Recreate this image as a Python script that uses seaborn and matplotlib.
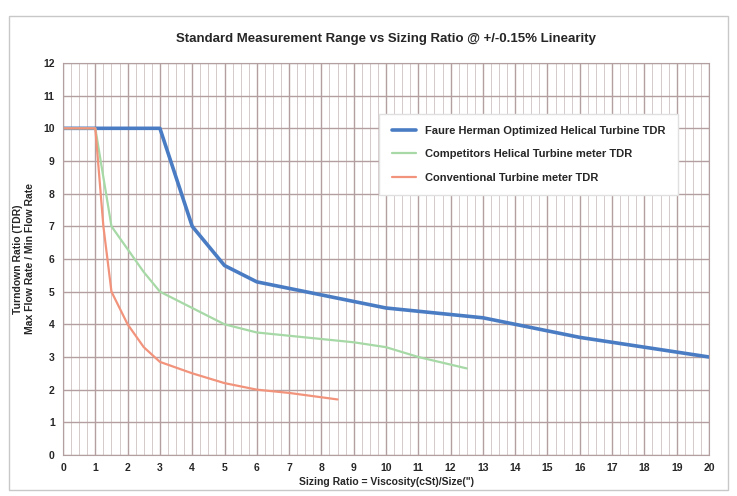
import matplotlib
matplotlib.use("Agg")
import matplotlib.pyplot as plt
import seaborn as sns
import pandas as pd
from matplotlib.patches import Rectangle
from matplotlib.ticker import MultipleLocator

# valores
x_fh = [0, 1, 2, 3, 4, 5, 6, 7, 8, 9, 10, 11, 12, 13, 14, 15, 16, 17, 18, 19, 20]
y_fh = [10, 10, 10, 10, 7.0, 5.8, 5.3, 5.1, 4.9, 4.7, 4.5, 4.4, 4.3, 4.2, 4.0, 3.8, 3.6, 3.45, 3.3, 3.15, 3.0]

x_comp = [0, 1, 1.5, 2, 2.5, 3, 4, 5, 6, 7, 8, 9, 10, 11, 12.5]
y_comp = [10, 10, 7.0, 6.3, 5.6, 5.0, 4.5, 4.0, 3.75, 3.65, 3.55, 3.45, 3.3, 3.0, 2.65]

x_conv = [0, 1, 1.25, 1.5, 2, 2.5, 3, 4, 5, 6, 7, 8.5]
y_conv = [10, 10, 7.0, 5.0, 4.0, 3.3, 2.85, 2.5, 2.2, 2.0, 1.9, 1.7]

series = ["Faure Herman Optimized Helical Turbine TDR",
          "Competitors Helical Turbine meter TDR",
          "Conventional Turbine meter TDR"]
colors = ["#4a7cc4", "#a6d9a6", "#f2937c"]
widths = [2.6, 1.6, 1.6]

df = pd.concat([
    pd.DataFrame({"x": x_fh, "y": y_fh, "serie": series[0]}),
    pd.DataFrame({"x": x_comp, "y": y_comp, "serie": series[1]}),
    pd.DataFrame({"x": x_conv, "y": y_conv, "serie": series[2]}),
])

sns.set_style("white")
plt.rcParams["font.family"] = ["Liberation Sans", "DejaVu Sans"]
plt.rcParams["font.weight"] = "bold"

fig = plt.figure(figsize=(7.37, 4.96), dpi=100)
fig.patches.append(Rectangle((0.012, 0.012), 0.976, 0.955, transform=fig.transFigure,
                             fill=False, edgecolor="#c8c8c8", linewidth=1))
ax = fig.add_axes([0.0855, 0.0827, 0.8765, 0.7903])

for nome, cor, lw in zip(series, colors, widths):
    sub = df[df["serie"] == nome]
    sns.lineplot(data=sub, x="x", y="y", color=cor, linewidth=lw, label=nome,
                 ax=ax, sort=False, estimator=None)

ax.set_xlim(0, 20)
ax.set_ylim(0, 12)
ax.xaxis.set_major_locator(MultipleLocator(1))
ax.xaxis.set_minor_locator(MultipleLocator(0.25))
ax.yaxis.set_major_locator(MultipleLocator(1))
ax.grid(True, which="major", color="#b39f9f", linewidth=1.0)
ax.grid(True, which="minor", axis="x", color="#cdc2c2", linewidth=0.6)
ax.set_axisbelow(True)
for s in ax.spines.values():
    s.set_color("#b39f9f")
ax.tick_params(axis="both", labelsize=7.5, length=3, color="#b39f9f", pad=3)
ax.tick_params(axis="x", which="minor", length=0)

ax.set_title("Standard Measurement Range vs Sizing Ratio @ +/-0.15% Linearity",
             fontsize=9.5, fontweight="bold", pad=15)
ax.set_xlabel("Sizing Ratio = Viscosity(cSt)/Size(\")", fontsize=7.5, fontweight="bold", labelpad=3)
ax.set_ylabel("Turndown Ratio (TDR)\nMax Flow Rate / Min Flow Rate", fontsize=7.5,
              fontweight="bold", labelpad=6)

leg = ax.legend(loc="upper right", bbox_to_anchor=(0.96, 0.885), fontsize=8,
                frameon=True, facecolor="white", edgecolor="#e0e0e0", framealpha=1,
                handlelength=2.2, borderpad=1.1, labelspacing=1.2, fancybox=False)
for t in leg.get_texts():
    t.set_fontweight("bold")

fig.savefig("out.png", dpi=100)
